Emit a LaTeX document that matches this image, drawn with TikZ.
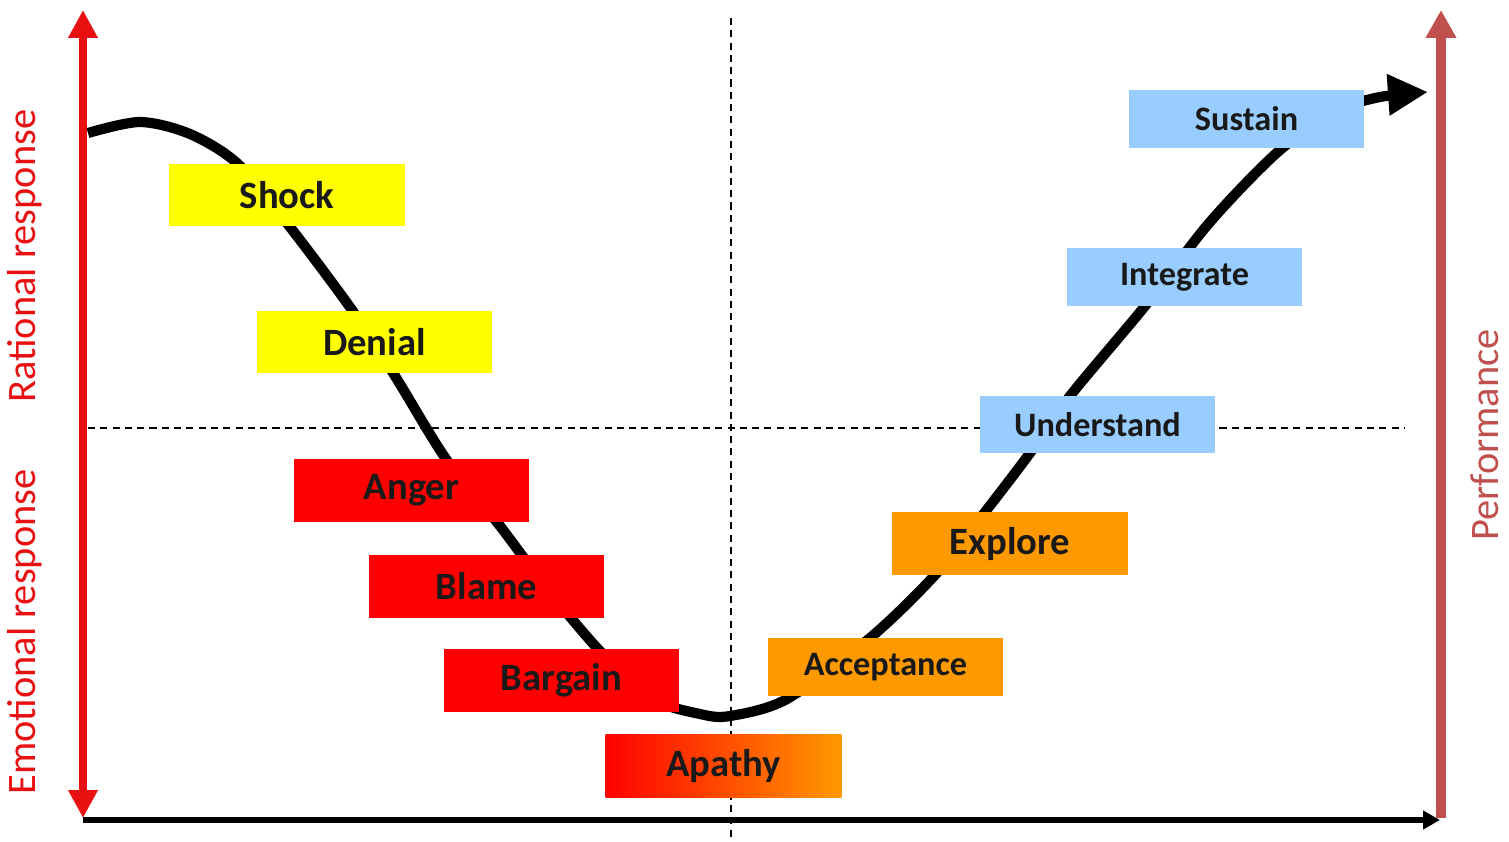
\documentclass[tikz,border=0pt]{standalone}
\usepackage{fontspec}
\setmainfont{Carlito}
\usetikzlibrary{arrows.meta, positioning}

\definecolor{stagered}{RGB}{255,0,0}
\definecolor{stageyellow}{RGB}{255,255,0}
\definecolor{stageorange}{RGB}{255,153,0}
\definecolor{stageblue}{RGB}{153,204,255}
\definecolor{axisred}{RGB}{232,16,16}
\definecolor{perfred}{RGB}{192,80,77}

\begin{document}
\begin{tikzpicture}[
    x = 0.02cm, y = -0.02cm, % one unit = one pixel of the sketch
    bigtip/.tip = {Triangle[length=0.56cm, width=0.56cm]}, % axis heads
    line join = round
    ]

    \tikzset{stage/.style={
    rectangle,
    inner sep = 0pt,
    minimum width = 4.72cm,
    minimum height = 1.26cm,
    text = black!90,
    font = \bfseries\fontsize{22}{26}\selectfont
    }}
    \tikzset{stagesmall/.style={
    stage,
    minimum height = 1.16cm,
    font = \bfseries\fontsize{19.5}{22}\selectfont
    }}
    \tikzset{axislabel/.style={rotate = 90, font = \fontsize{23}{26}\selectfont}}
    \tikzset{guide/.style={black, line width = 0.8pt, dash pattern = on 4pt off 3pt}}

    \useasboundingbox (0,0) rectangle (1509,842);

    % end points of axes and guides
    \coordinate (origin) at (83,820);
    \coordinate (ltop) at (83,10);
    \coordinate (lbot) at (83,818);
    \coordinate (rtop) at (1441,10);
    \coordinate (rbot) at (1441,818);
    \coordinate (xend) at (1440,820);
    \coordinate (hleft) at (88,428);
    \coordinate (hright) at (1405,428);
    \coordinate (vtop) at (731,18);
    \coordinate (vbot) at (731,842);

    \draw[guide] (hleft) -- (hright);
    \draw[guide] (vtop) -- (vbot);

    % the change curve
    \draw[line width = 5.8pt, line cap = butt,
    -{Triangle[length=0.8cm, width=0.78cm]}]
    plot[smooth, tension = 0.5] coordinates {
    (88,133) (140,122) (190,134) (238,164) (290,227) (352,310) (395,376)
    (446,459) (500,526) (545,586) (598,649) (650,698) (700,714) (730,716)
    (787,699) (870,638) (935,575) (985,512) (1030,453) (1070,396)
    (1145,306) (1210,222) (1280,150) (1340,110) (1380,97) (1428,92)};

    % axes
    \draw[axisred, line width = 5pt, bigtip-bigtip] (lbot) -- (ltop);
    \draw[line width = 3.3pt, -{Triangle[length=0.34cm, width=0.36cm]}] (origin) -- (xend);
    \draw[perfred, line width = 5.6pt, -{Triangle[length=0.56cm, width=0.58cm]}] (rbot) -- (rtop);

    \node[axislabel, axisred] (rational) at (25,256) {Rational response};
    \node[axislabel, axisred] (emotional) at (25,632) {Emotional response};
    \node[axislabel, perfred] (performance) at (1485,435) {Performance};

    % stages
    \node[stage, fill = stageyellow] (shock) at (287,195) {Shock};
    \node[stage, fill = stageyellow] (denial) at (374.5,342) {Denial};
    \node[stage, fill = stagered] (anger) at (411.5,490.5) {Anger};
    \node[stage, fill = stagered] (blame) at (486.5,586) {Blame};
    \node[stage, fill = stagered] (bargain) at (561.5,680.5) {Bargain};
    \node[stage, left color = stagered, right color = stageorange] (apathy) at (723.5,766) {Apathy};
    \node[stagesmall, fill = stageorange] (acceptance) at (885.5,667) {Acceptance};
    \node[stage, fill = stageorange] (explore) at (1010,543.5) {Explore};
    \node[stagesmall, fill = stageblue] (understand) at (1097.5,424.5) {Understand};
    \node[stagesmall, fill = stageblue] (integrate) at (1184.5,277) {Integrate};
    \node[stagesmall, fill = stageblue] (sustain) at (1246.5,119) {Sustain};

\end{tikzpicture}
\end{document}
